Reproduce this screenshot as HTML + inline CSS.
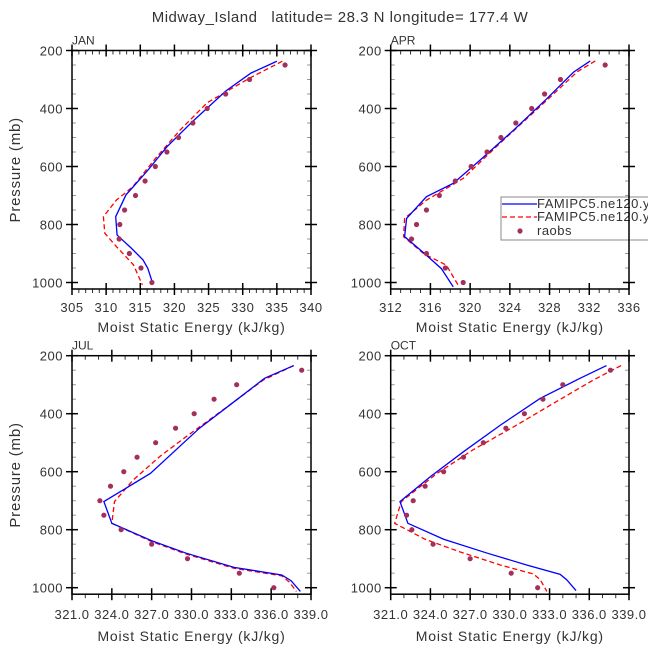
<!DOCTYPE html>
<html><head><meta charset="utf-8">
<style>
html,body{margin:0;padding:0;background:#fff;}
svg{display:block;font-family:"Liberation Sans",sans-serif;}
</style></head>
<body>
<svg id="chart" width="648" height="649" viewBox="0 0 648 649" xmlns="http://www.w3.org/2000/svg">
<text x="340" y="22" font-size="15" fill="#333" text-anchor="middle" letter-spacing="0.5" xml:space="preserve">Midway_Island   latitude= 28.3 N longitude= 177.4 W</text>
</svg>
<script>
const obsLevels=[250,300,350,400,450,500,550,600,650,700,750,800,850,900,950,1000];
const janObs=[336.2,331.0,327.5,324.8,322.7,320.6,318.9,317.2,315.7,314.3,312.7,312.0,311.9,313.4,315.1,316.7];
const janBlueP=[237,278,340,446,532,616,698,773,836,882,922,951,1002];
const janBlue=[335.0,331.2,327.5,322.6,318.9,316.0,312.9,311.4,311.6,313.7,315.4,316.1,316.8];
const janRedP=[237,294,380,475,567,670,716,773,830,876,939,1008];
const janRed=[335.8,331.1,324.8,320.8,317.4,313.9,311.5,309.6,309.8,311.5,314.0,315.3];
const aprObs=[333.6,329.1,327.5,326.2,324.6,323.1,321.7,320.1,318.5,316.9,315.6,314.6,314.1,315.6,317.5,319.3];
const aprBlueP=[236,275,367,474,578,658,704,779,842,897,952,1015];
const aprBlue=[332.1,330.4,327.7,324.4,321.0,318.3,315.6,313.6,313.4,315.3,317.1,318.3];
const aprRedP=[236,273,382,520,641,716,779,842,900,940,1015];
const aprRed=[332.6,330.8,327.4,323.0,319.3,315.6,313.4,313.3,315.3,317.6,318.9];
const julObs=[338.3,333.4,331.7,330.2,328.8,327.3,325.9,324.9,323.9,323.1,323.4,324.7,327.0,329.7,333.6,336.2];
const julBlueP=[234,278,359,450,606,703,778,838,881,930,956,976,1013];
const julBlue=[337.7,335.5,333.2,330.6,326.9,323.4,324.0,327.0,329.6,333.2,336.8,337.5,338.2];
const julRedP=[234,284,376,479,548,629,703,778,841,884,933,959,982,1013];
const julRed=[337.7,335.4,332.7,329.6,327.6,325.6,324.2,324.0,327.0,329.6,333.2,336.8,337.4,337.9];
const octObs=[337.6,334.0,332.5,331.1,329.7,328.0,326.5,325.0,323.6,322.7,322.2,322.6,324.2,327.0,330.1,332.1];
const octBlueP=[234,278,347,439,531,617,703,778,833,881,922,954,973,1010];
const octBlue=[337.3,335.3,332.3,329.3,326.5,324.0,321.7,322.3,325.0,328.3,331.3,333.8,334.3,335.0];
const octRedP=[234,284,364,445,525,606,703,778,833,876,922,953,973,1013];
const octRed=[338.4,336.3,333.3,330.3,327.2,324.5,321.8,321.3,323.6,326.2,329.3,331.8,332.3,332.8];
const janTicks=["305","310","315","320","325","330","335","340"];
const aprTicks=["312","316","320","324","328","332","336"];
const julTicks=["321.0","324.0","327.0","330.0","333.0","336.0","339.0"];
const yTicks=["200","400","600","800","1000"];

const NS="http://www.w3.org/2000/svg";
const svg=document.getElementById('chart');
function el(t,a,p){const e=document.createElementNS(NS,t);for(const k in a)e.setAttribute(k,a[k]);(p||svg).appendChild(e);return e;}

const panels=[
 {id:'jan',name:'JAN',x0:72,x1:311,y0:50.5,xmin:305,xmax:340,major:5,minor:1,ticks:janTicks,obs:janObs,bp:janBlueP,bv:janBlue,rp:janRedP,rv:janRed,ytitle:true,lab:307,tit:327},
 {id:'apr',name:'APR',x0:390.7,x1:629,y0:50.5,xmin:312,xmax:336,major:4,minor:1,ticks:aprTicks,obs:aprObs,bp:aprBlueP,bv:aprBlue,rp:aprRedP,rv:aprRed,ytitle:false,lab:307,tit:327},
 {id:'jul',name:'JUL',x0:72,x1:311,y0:355.7,xmin:321,xmax:339,major:3,minor:1,ticks:julTicks,obs:julObs,bp:julBlueP,bv:julBlue,rp:julRedP,rv:julRed,ytitle:true,lab:614,tit:636},
 {id:'oct',name:'OCT',x0:390.7,x1:629,y0:355.7,xmin:321,xmax:339,major:3,minor:1,ticks:julTicks,obs:octObs,bp:octBlueP,bv:octBlue,rp:octRedP,rv:octRed,ytitle:false,lab:614,tit:636}
];
panels.forEach(P=>{
 const g=el('g',{});
 
 
 const sy=232/800;
 const Y=p=>P.y0+(p-200)*sy;
 const X=v=>P.x0+(v-P.xmin)/(P.xmax-P.xmin)*(P.x1-P.x0);
 const yb=P.y0+238.5;
 for(let p=250;p<=1000;p+=50){ if(p%200===0)continue;
  el('line',{x1:P.x0,x2:P.x0+4,y1:Y(p),y2:Y(p),stroke:'#999','stroke-width':1},g);
  el('line',{x1:P.x1,x2:P.x1-4,y1:Y(p),y2:Y(p),stroke:'#999','stroke-width':1},g);}
 yTicks.forEach(t=>{const y=Y(+t);
  el('line',{x1:P.x0-6,x2:P.x0+6,y1:y,y2:y,stroke:'#000','stroke-width':1.5},g);
  el('line',{x1:P.x1-6,x2:P.x1+6,y1:y,y2:y,stroke:'#000','stroke-width':1.5},g);
  const tx=el('text',{x:P.x0-9,y:y+5,'font-size':13,fill:'#333','text-anchor':'end','letter-spacing':0.5},g);tx.textContent=t;
  
  });
 for(let v=P.xmin;v<=P.xmax+1e-6;v+=P.minor){
  const isMaj=Math.abs(((v-P.xmin)/P.major)-Math.round((v-P.xmin)/P.major))<1e-6;
  const x=X(v);
  if(isMaj){el('line',{x1:x,x2:x,y1:yb-6,y2:yb+6,stroke:'#000','stroke-width':1.5},g);
   el('line',{x1:x,x2:x,y1:P.y0-6,y2:P.y0+6,stroke:'#000','stroke-width':1.5},g);}
  else{el('line',{x1:x,x2:x,y1:yb,y2:yb+4,stroke:'#333','stroke-width':1},g);
   el('line',{x1:x,x2:x,y1:P.y0,y2:P.y0+4,stroke:'#333','stroke-width':1},g);}
 }
 P.ticks.forEach((t,i)=>{const v=P.xmin+i*P.major;
  const tx=el('text',{x:X(v),y:P.lab+5,'font-size':13,fill:'#333','text-anchor':'middle','letter-spacing':0.5},g);tx.textContent=t;
  
  });
 const xt=el('text',{x:(P.x0+P.x1)/2,y:P.tit+5,'font-size':14,fill:'#333','text-anchor':'middle','letter-spacing':0.8},g);xt.textContent='Moist Static Energy (kJ/kg)';
 
 
 if(P.ytitle){const yt=el('text',{x:0,y:0,'font-size':15,fill:'#333','text-anchor':'middle','letter-spacing':0.8,transform:`translate(20,${(P.y0+yb)/2}) rotate(-90)`},g);yt.textContent='Pressure (mb)';
  
  }
 const pl=el('text',{x:P.x0,y:P.y0-6,'font-size':12,fill:'#333'},g);pl.textContent=P.name;
 
 
 const rl=el('polyline',{points:P.rp.map((p,i)=>X(P.rv[i])+','+Y(p)).join(' '),fill:'none',stroke:'#ff0000','stroke-width':1.3,'stroke-dasharray':'5,3'},g);
 
 
 const bl=el('polyline',{points:P.bp.map((p,i)=>X(P.bv[i])+','+Y(p)).join(' '),fill:'none',stroke:'#0000ff','stroke-width':1.3},g);
 
 
 P.obs.forEach((v,i)=>{const c=el('circle',{cx:X(v),cy:Y(obsLevels[i]),r:2.6,fill:'#a3305c'},g);
  
  });
 P.yb=yb;P.g=g;
});
const lg=el('g',{});


el('rect',{x:501,y:197,width:160,height:43,fill:'#fff',stroke:'#888','stroke-width':1},lg);
el('line',{x1:502,x2:537,y1:204,y2:204,stroke:'#0000ff','stroke-width':1.3},lg);
el('line',{x1:502,x2:537,y1:217,y2:217,stroke:'#ff0000','stroke-width':1.3,'stroke-dasharray':'5,3'},lg);
el('circle',{cx:520,cy:231,r:2.6,fill:'#a3305c'},lg);
[['FAMIPC5.ne120.y',208],['FAMIPC5.ne120.y',221],['raobs',235]].forEach(([t,y])=>{
 const tx=el('text',{x:537,y:y,'font-size':13,fill:'#333','letter-spacing':0.5},lg);tx.textContent=t;
 
 });
panels.forEach(P=>{
 const f=el('rect',{x:P.x0,y:P.y0,width:P.x1-P.x0,height:P.yb-P.y0,fill:'none',stroke:'#000','stroke-width':1.5});
 
 
});
</script>
</body></html>
